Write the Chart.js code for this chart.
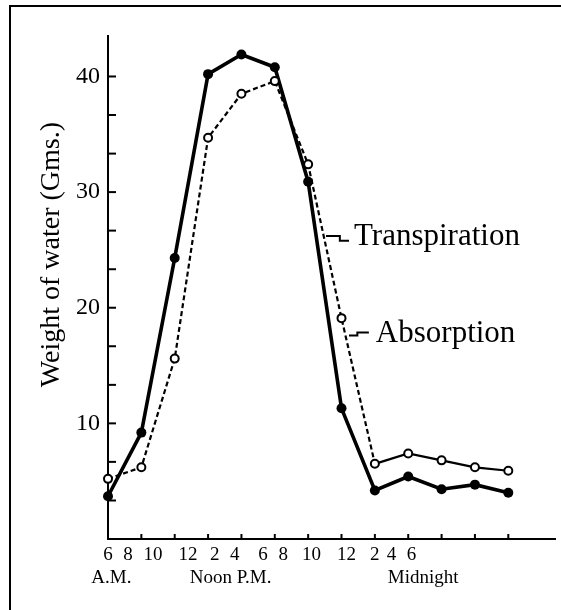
<!DOCTYPE html>
<html>
<head>
<meta charset="utf-8">
<title>Absorption and transpiration</title>
<script src="https://cdn.jsdelivr.net/npm/chart.js@4.4.1/dist/chart.umd.min.js"></script>
<style>
    html, body { margin: 0; padding: 0; background: #fff; }
</style>
</head>
<body>
<canvas id="waterChart" width="561" height="610"></canvas>
<script>
// time of day, counted in hours from 6 A.M.
const hours = [0, 2, 4, 6, 8, 10, 12, 14, 16, 18, 20, 22, 24];
// weight of water in grams
const transpiration = [3.7, 9.2, 24.3, 40.2, 41.9, 40.8, 30.9, 11.3, 4.2, 5.4, 4.3, 4.7, 4.0];
const absorption = [5.2, 6.2, 15.6, 34.7, 38.5, 39.6, 32.4, 19.1, 6.5, 7.4, 6.8, 6.2, 5.9];

// labels under the axis, printed a bit to the left of the tick marks
const tickLabels = ['6', '8', '10', '12', '2', '4', '6', '8', '10', '12', '2', '4', '6'];
const tickLabelHours = [0, 1.2, 2.7, 4.8, 6.4, 7.6, 9.3, 10.5, 12.2, 14.3, 16.0, 17.0, 18.2];
const tickMarkHours = [2, 4, 6, 8, 10, 12, 14, 16, 18, 20, 22, 24];
const periodNames = ['A.M.', 'Noon P.M.', 'Midnight'];
const periodHours = [0.2, 7.35, 18.9];

const yLabelValues = [10, 20, 30, 40];
const yTickMarks = [3.33, 6.67, 10, 13.33, 16.67, 20, 23.33, 26.67, 30, 33.33, 36.67, 40];

const serif = '"Liberation Serif", "DejaVu Serif", serif';

// frame, inward tick marks, axis title and the two line names
const extras = {
    id: 'extras',
    beforeDraw: function (chart) {
        var ctx = chart.ctx;
        ctx.save();
        ctx.fillStyle = '#fff';
        ctx.fillRect(0, 0, chart.width, chart.height);
        // only the top and left edges of the frame are printed
        ctx.strokeStyle = '#000';
        ctx.lineWidth = 2;
        ctx.beginPath();
        ctx.moveTo(10, chart.height);
        ctx.lineTo(10, 6);
        ctx.lineTo(chart.width, 6);
        ctx.stroke();
        ctx.restore();
    },
    afterDraw: function (chart) {
        var ctx = chart.ctx;
        var xs = chart.scales.x;
        var ys = chart.scales.y;
        var area = chart.chartArea;
        ctx.save();
        ctx.strokeStyle = '#000';
        ctx.fillStyle = '#000';
        ctx.lineWidth = 2;

        tickMarkHours.forEach(function (h) {
            var px = xs.getPixelForValue(h);
            ctx.beginPath();
            ctx.moveTo(px, area.bottom);
            ctx.lineTo(px, area.bottom - 5);
            ctx.stroke();
        });
        yTickMarks.forEach(function (v) {
            var py = ys.getPixelForValue(v);
            ctx.beginPath();
            ctx.moveTo(area.left, py);
            ctx.lineTo(area.left + 8, py);
            ctx.stroke();
        });

        // A.M. / Noon P.M. / Midnight row
        ctx.font = '19px ' + serif;
        ctx.textAlign = 'center';
        ctx.textBaseline = 'alphabetic';
        periodNames.forEach(function (name, i) {
            ctx.fillText(name, xs.getPixelForValue(periodHours[i]), area.bottom + 44);
        });

        // y axis title
        ctx.save();
        ctx.translate(area.left - 56, ys.getPixelForValue(24.6));
        ctx.rotate(-Math.PI / 2);
        ctx.font = '28px ' + serif;
        ctx.textBaseline = 'middle';
        ctx.fillText('Weight of water (Gms.)', 0, 0);
        ctx.restore();

        // names of the curves with their small leaders
        ctx.font = '31px ' + serif;
        ctx.textAlign = 'left';
        ctx.fillText('Transpiration', xs.getPixelForValue(14.75), ys.getPixelForValue(25.4));
        ctx.fillText('Absorption', xs.getPixelForValue(16.06), ys.getPixelForValue(17.06));

        ctx.lineWidth = 2;
        ctx.beginPath();
        ctx.moveTo(xs.getPixelForValue(13.07), ys.getPixelForValue(26.2));
        ctx.lineTo(xs.getPixelForValue(13.9), ys.getPixelForValue(26.2));
        ctx.lineTo(xs.getPixelForValue(13.9), ys.getPixelForValue(25.8));
        ctx.lineTo(xs.getPixelForValue(14.45), ys.getPixelForValue(25.8));
        ctx.stroke();
        ctx.beginPath();
        ctx.moveTo(xs.getPixelForValue(14.45), ys.getPixelForValue(17.6));
        ctx.lineTo(xs.getPixelForValue(14.95), ys.getPixelForValue(17.6));
        ctx.lineTo(xs.getPixelForValue(14.95), ys.getPixelForValue(17.85));
        ctx.lineTo(xs.getPixelForValue(15.64), ys.getPixelForValue(17.85));
        ctx.stroke();
        ctx.restore();
    }
};

document.addEventListener('DOMContentLoaded', function () {
    var ctx = document.getElementById('waterChart').getContext('2d');
    new Chart(ctx, {
        type: 'line',
        data: {
            datasets: [{
                label: 'Absorption',
                data: hours.map(function (h, i) { return { x: h, y: absorption[i] }; }),
                borderColor: '#000',
                borderWidth: 2.2,
                pointRadius: 4,
                pointBorderWidth: 2,
                pointBackgroundColor: '#fff',
                pointBorderColor: '#000',
                tension: 0,
                clip: false,
                // dashed while rising and falling, solid through the night
                segment: {
                    borderDash: function (c) { return c.p0DataIndex < 8 ? [5, 3] : undefined; }
                }
            }, {
                label: 'Transpiration',
                data: hours.map(function (h, i) { return { x: h, y: transpiration[i] }; }),
                borderColor: '#000',
                borderWidth: 3.6,
                pointRadius: 5,
                pointBorderWidth: 0,
                pointBackgroundColor: '#000',
                tension: 0,
                clip: false
            }]
        },
        options: {
            responsive: false,
            animation: false,
            layout: { padding: { left: 35, top: 36, right: 4, bottom: 0 } },
            plugins: {
                legend: { display: false },
                tooltip: { enabled: false }
            },
            scales: {
                x: {
                    type: 'linear',
                    min: 0,
                    max: 26.8,
                    grid: { display: false, drawTicks: false },
                    border: { display: true, color: '#000', width: 2 },
                    afterBuildTicks: function (scale) {
                        scale.ticks = tickLabelHours.map(function (h) { return { value: h }; });
                    },
                    afterFit: function (scale) { scale.height = 71; },
                    ticks: {
                        autoSkip: false,
                        maxRotation: 0,
                        padding: 5,
                        color: '#000',
                        font: { family: serif, size: 19 },
                        callback: function (v, i) { return tickLabels[i]; }
                    }
                },
                y: {
                    min: 0,
                    max: 43.5,
                    grid: { display: false, drawTicks: false },
                    border: { display: true, color: '#000', width: 2 },
                    afterBuildTicks: function (scale) {
                        scale.ticks = yLabelValues.map(function (v) { return { value: v }; });
                    },
                    afterFit: function (scale) { scale.width = 73; },
                    ticks: {
                        padding: 8,
                        color: '#000',
                        font: { family: serif, size: 24 },
                        callback: function (v) { return String(v); }
                    }
                }
            }
        },
        plugins: [extras]
    });
});
</script>
</body>
</html>
